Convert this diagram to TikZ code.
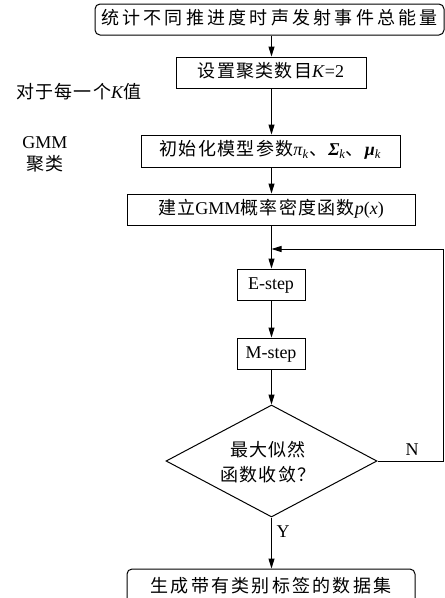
\documentclass[tikz,border=0pt]{standalone}
\usepackage{fontspec}
\setmainfont{Liberation Serif}
\newfontfamily\cjk[LetterSpace=7]{Noto Sans CJK SC}
\newfontfamily\cjkwide[LetterSpace=18]{Noto Sans CJK SC}
\newfontfamily\cjkmid[LetterSpace=12.5]{Noto Sans CJK SC}
\newcommand{\C}[1]{{\cjk #1}}
\usetikzlibrary{arrows.meta,shapes.geometric}
\tikzset{
  fs/.style={font=\fontsize{18}{22}\selectfont},
  box/.style={draw, line width=1pt, inner sep=0pt, minimum height=31pt, fs, text height=13pt, text depth=4pt},
  rbox/.style={box, rounded corners=5pt},
  arr/.style={line width=1pt, -{Triangle[length=10pt,width=6pt]}},
  ln/.style={line width=1pt},
  lbl/.style={fs, inner sep=0pt},
}
\begin{document}
\begin{tikzpicture}[x={(1pt,0)}, y={(0,-1pt)}]
\useasboundingbox (0,0) rectangle (445,598);
\clip (0,0) rectangle (445,598);
\node[rbox, minimum width=349pt] (top) at (269.5,19.5) {\cjkwide 统计不同推进度时声发射事件总能量};
\node[box, minimum width=190pt] (k2) at (271,72.5) {\C{设置聚类数目}\textit{K}=2};
\node[box, minimum width=259pt, minimum height=32pt] (init) at (270.5,151) {\C{初始化模型参数}\textit{π}\textsubscript{\textit{k}}\C{、}\textbf{\textit{Σ}}\textsubscript{\textit{k}}\C{、}\textbf{\textit{μ}}\textsubscript{\textit{k}}};
\node[box, minimum width=288pt] (pdf) at (271,209.5) {\C{建立}GMM\C{概率密度函数}\textit{p}(\textit{x})};
\node[box, minimum width=68pt] (es) at (271,284.5) {E-step};
\node[box, minimum width=68pt] (ms) at (271,353.5) {M-step};
\node[diamond, draw, line width=1pt, inner sep=0pt, minimum width=211pt, minimum height=112pt] (dec) at (271.5,461) {};
\node[lbl, align=center, font=\fontsize{18}{25}\selectfont] (dtext) at (268,462) {\C{最大似然}\\\C{函数收敛？}};
\node[rbox, minimum width=288pt, minimum height=38pt] (out) at (271,588) {\cjkmid 生成带有类别标签的数据集};
\node[lbl] (lk) at (79,92) {\C{对于每一个}\textit{K}\C{值}};
\node[lbl] (lg) at (45,143) {GMM};
\node[lbl] (lj) at (45,164) {\C{聚类}};
\node[lbl] (ln) at (412,450) {N};
\node[lbl] (ly) at (283,532) {Y};
\coordinate (xl) at (271.5,0);
\coordinate (rt) at (443,249);
\coordinate (jn) at (271.5,249);
\draw[arr] (top.south -| xl) -- (k2.north -| xl);
\draw[arr] (k2.south -| xl) -- (init.north -| xl);
\draw[arr] (init.south -| xl) -- (pdf.north -| xl);
\draw[arr] (pdf.south -| xl) -- (es.north -| xl);
\draw[arr] (es.south -| xl) -- (ms.north -| xl);
\draw[arr] (ms.south -| xl) -- (dec.north);
\draw[arr] (dec.south) -- (out.north -| dec.south);
\draw[ln] (dec.east) -- (dec.east -| rt) -- (rt);
\draw[arr] (rt) -- (jn);
\end{tikzpicture}
\end{document}
